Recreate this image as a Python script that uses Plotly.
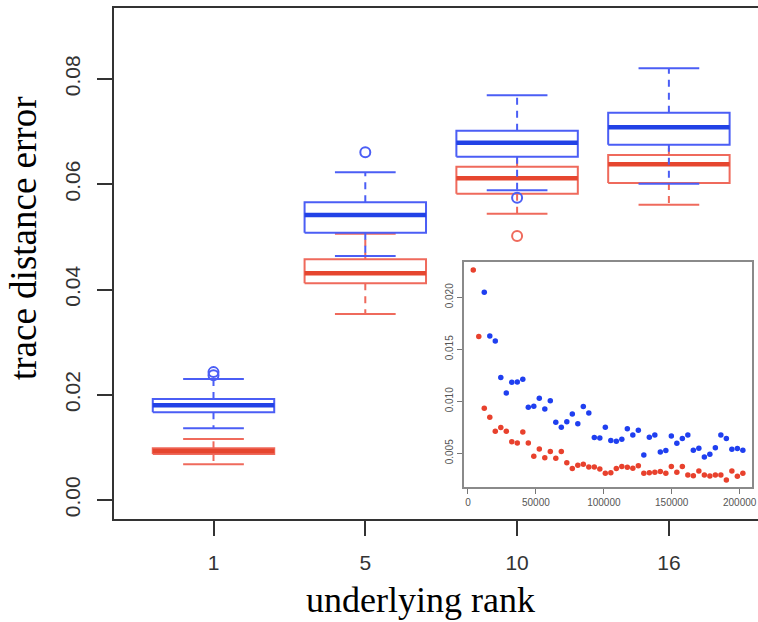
import plotly.graph_objects as go

# ---------------- data ----------------
ranks = ["1", "5", "10", "16"]
positions = [1, 2, 3, 4]

blue_lo = [0.01362, 0.04637, 0.05885, 0.06010]
blue_q1 = [0.01667, 0.05080, 0.06524, 0.06752]
blue_med = [0.01800, 0.05416, 0.06790, 0.07082]
blue_q3 = [0.01919, 0.05657, 0.07018, 0.07360]
blue_hi = [0.02300, 0.06227, 0.07690, 0.08203]
blue_out_pos = [1, 1, 2, 3]
blue_out_val = [0.02430, 0.02370, 0.06610, 0.05745]

red_lo = [0.00678, 0.03534, 0.05440, 0.05612]
red_q1 = [0.00874, 0.04118, 0.05820, 0.06024]
red_med = [0.00931, 0.04308, 0.06113, 0.06378]
red_q3 = [0.00982, 0.04574, 0.06334, 0.06556]
red_hi = [0.01159, 0.05060, 0.06600, 0.06800]
red_out_pos = [3]
red_out_val = [0.05017]

y_ticks = [0.00, 0.02, 0.04, 0.06, 0.08]
y_ticktext = ["0.00", "0.02", "0.04", "0.06", "0.08"]

inset_n = [3900, 7950, 12000, 16050, 20100, 24150, 28200, 32250, 36300, 40350,
           44400, 48450, 52500, 56550, 60600, 64650, 68700, 72750, 76800, 80850,
           84900, 88950, 93000, 97050, 101100, 105150, 109200, 113250, 117300, 121350,
           125400, 129450, 133500, 137550, 141600, 145650, 149700, 153750, 157800, 161850,
           165900, 169950, 174000, 178050, 182100, 186150, 190200, 194250, 198300, 202350]
inset_red = [0.02263, 0.01622, 0.00933, 0.00846, 0.00712, 0.00747, 0.00712, 0.00612, 0.00599, 0.00705,
             0.00599, 0.00471, 0.00542, 0.00458, 0.00516, 0.00452, 0.00516, 0.00410, 0.00353, 0.00385,
             0.00394, 0.00369, 0.00369, 0.00349, 0.00308, 0.00314, 0.00353, 0.00372, 0.00365, 0.00356,
             0.00381, 0.00308, 0.00314, 0.00317, 0.00324, 0.00308, 0.00372, 0.00317, 0.00372, 0.00292,
             0.00285, 0.00330, 0.00292, 0.00282, 0.00292, 0.00292, 0.00244, 0.00330, 0.00279, 0.00308]
inset_blue_n = inset_n[2:]
inset_blue = [0.02048, 0.01628, 0.01580, 0.01228, 0.01080, 0.01183, 0.01186, 0.01212, 0.00942, 0.00952,
              0.01029, 0.00926, 0.01006, 0.00798, 0.00750, 0.00804, 0.00878, 0.00785, 0.00949, 0.00888,
              0.00651, 0.00647, 0.00750, 0.00622, 0.00615, 0.00635, 0.00737, 0.00676, 0.00721, 0.00484,
              0.00654, 0.00676, 0.00513, 0.00526, 0.00667, 0.00596, 0.00641, 0.00676, 0.00529, 0.00548,
              0.00465, 0.00490, 0.00554, 0.00676, 0.00641, 0.00538, 0.00545, 0.00529]
inset_xticks = [0, 50000, 100000, 150000, 200000]
inset_xticktext = ["0", "50000", "100000", "150000", "200000"]
inset_yticks = [0.005, 0.010, 0.015, 0.020]
inset_yticktext = ["0.005", "0.010", "0.015", "0.020"]

# ---------------- styles ----------------
BOX_HALF = 0.4
STAPLE_HALF = 0.2
FRAME = "#333333"
BLUE_LINE, BLUE_MED, BLUE_PT = "#4b5ef5", "#2242e6", "#1f3ff0"
RED_LINE, RED_MED, RED_PT = "#ef6a5c", "#e6462f", "#e8412d"

fig = go.Figure()


def add_boxes(lo, q1, med, q3, hi, out_pos, out_val, lcol, mcol):
    wx, wy, sx, sy, bx, by, mx, my = [], [], [], [], [], [], [], []
    for p, a, b, m, c, d in zip(positions, lo, q1, med, q3, hi):
        wx += [p, p, None, p, p, None]
        wy += [c, d, None, b, a, None]
        sx += [p - STAPLE_HALF, p + STAPLE_HALF, None, p - STAPLE_HALF, p + STAPLE_HALF, None]
        sy += [d, d, None, a, a, None]
        bx += [p - BOX_HALF, p + BOX_HALF, p + BOX_HALF, p - BOX_HALF, p - BOX_HALF, None]
        by += [b, b, c, c, b, None]
        mx += [p - BOX_HALF, p + BOX_HALF, None]
        my += [m, m, None]
    fig.add_trace(go.Scatter(x=wx, y=wy, mode="lines", hoverinfo="skip",
                             line=dict(color=lcol, width=2, dash="7px,6px")))
    fig.add_trace(go.Scatter(x=sx, y=sy, mode="lines", hoverinfo="skip",
                             line=dict(color=lcol, width=2)))
    fig.add_trace(go.Scatter(x=bx, y=by, mode="lines", fill="toself", fillcolor="white",
                             hoverinfo="skip", line=dict(color=lcol, width=2)))
    fig.add_trace(go.Scatter(x=mx, y=my, mode="lines", hoverinfo="skip",
                             line=dict(color=mcol, width=4.5)))
    fig.add_trace(go.Scatter(x=out_pos, y=out_val, mode="markers", hoverinfo="skip",
                             marker=dict(symbol="circle-open", size=10, color=lcol,
                                         line=dict(width=2, color=lcol))))


add_boxes(red_lo, red_q1, red_med, red_q3, red_hi, red_out_pos, red_out_val, RED_LINE, RED_MED)
add_boxes(blue_lo, blue_q1, blue_med, blue_q3, blue_hi, blue_out_pos, blue_out_val, BLUE_LINE, BLUE_MED)

# inset scatter
fig.add_trace(go.Scatter(x=inset_n, y=inset_red, mode="markers", xaxis="x2", yaxis="y2",
                         marker=dict(size=5.5, color=RED_PT)))
fig.add_trace(go.Scatter(x=inset_blue_n, y=inset_blue, mode="markers", xaxis="x2", yaxis="y2",
                         marker=dict(size=5.5, color=BLUE_PT)))

W, H = 758, 622
ML, MR, MT, MB = 114, 0, 8, 103
pw, ph = W - ML - MR, H - MT - MB


def px_x(v):
    return (v - ML) / pw


def px_y(v):
    return (H - MB - v) / ph


tick_font = dict(family="Liberation Sans, Arial, sans-serif", size=21, color=FRAME)
inset_font = dict(family="Liberation Sans, Arial, sans-serif", size=10, color="#555555")

fig.update_layout(
    width=W, height=H,
    margin=dict(l=ML, r=MR, t=MT, b=MB, pad=0, autoexpand=False),
    paper_bgcolor="white", plot_bgcolor="white",
    showlegend=False,
    xaxis=dict(range=[0.3445, 4.587], tickmode="array", tickvals=positions, ticktext=ranks,
               ticks="outside", ticklen=15, tickwidth=2, tickcolor=FRAME,
               showline=True, linewidth=2, linecolor=FRAME, mirror=True, automargin=False,
               showgrid=False, zeroline=False, tickfont=tick_font, ticklabelstandoff=9),
    yaxis=dict(range=[-0.00361, 0.09349], tickmode="array", tickvals=y_ticks, ticktext=y_ticktext,
               ticks="outside", ticklen=15, tickwidth=2, tickcolor=FRAME, tickangle=-90,
               showline=True, linewidth=2, linecolor=FRAME, mirror=False, automargin=False,
               showgrid=False, zeroline=False, tickfont=tick_font, ticklabelstandoff=9),
    xaxis2=dict(domain=[px_x(463.5), px_x(752.3)], anchor="y2", range=[-3300, 209300],
                tickmode="array", tickvals=inset_xticks, ticktext=inset_xticktext,
                ticks="outside", ticklen=5, tickwidth=1, automargin=False,
                tickcolor="#777777", showline=True, linewidth=1.5, linecolor="#8a8a8a", mirror=True,
                showgrid=False, zeroline=False, tickfont=inset_font),
    yaxis2=dict(domain=[px_y(487.3), px_y(261.8)], anchor="x2", range=[0.00173, 0.02341],
                tickmode="array", tickvals=inset_yticks, ticktext=inset_yticktext,
                ticks="outside", ticklen=5, tickwidth=1, tickcolor="#777777", tickangle=-90,
                showline=True, linewidth=1.5, linecolor="#8a8a8a", mirror=True, automargin=False,
                showgrid=False, zeroline=False, tickfont=inset_font),
    annotations=[
        dict(text="trace distance error", textangle=-90, showarrow=False,
             xref="paper", yref="paper", x=px_x(23), y=px_y(239), xanchor="center", yanchor="middle",
             font=dict(family="Liberation Serif, Times New Roman, serif", size=37, color="black")),
        dict(text="underlying rank", showarrow=False,
             xref="paper", yref="paper", x=px_x(420), y=px_y(600), xanchor="center", yanchor="middle",
             font=dict(family="Liberation Serif, Times New Roman, serif", size=36, color="black")),
    ],
)

fig.write_html("out.html", config={"displayModeBar": False},
               post_script="document.body.style.margin='0';")
